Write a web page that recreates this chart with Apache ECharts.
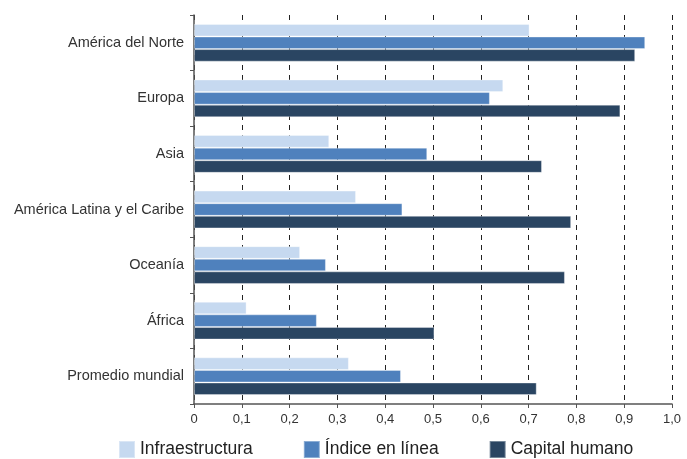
<!DOCTYPE html>
<html>
<head>
<meta charset="utf-8">
<script src="https://cdn.jsdelivr.net/npm/echarts@6/dist/echarts.min.js"></script>
<style>
  html, body { margin: 0; padding: 0; background: #fff; }
  #chart { width: 687px; height: 459px; }
</style>
</head>
<body>
<div id="chart"></div>
<script>
// regiones (de arriba hacia abajo)
const regiones = ['América del Norte', 'Europa', 'Asia', 'América Latina y el Caribe', 'Oceanía', 'África', 'Promedio mundial'];
const infraestructura = [0.702, 0.647, 0.283, 0.339, 0.222, 0.110, 0.324];
const indiceEnLinea = [0.944, 0.619, 0.488, 0.436, 0.276, 0.257, 0.433];
const capitalHumano = [0.923, 0.892, 0.728, 0.789, 0.776, 0.503, 0.717];
const nombres = ['Infraestructura', 'Índice en línea', 'Capital humano'];
const colores = ['#C6D9F0', '#4F81BD', '#2A4562'];

let myChart = echarts.init(document.getElementById('chart'));

function serie(i, data) {
  return {
    name: nombres[i],
    type: 'bar',
    data: data,
    barGap: '0%',
    barCategoryGap: '32%',
    itemStyle: {
      color: colores[i],
      borderColor: 'rgba(255,255,255,0.35)',
      borderWidth: 1
    }
  }
}

let option = {
  animation: false,
  textStyle: { fontFamily: 'Liberation Sans, Arial, sans-serif' },
  grid: { left: 194, right: 15, top: 15, bottom: 55 },
  legend: {
    top: 440,
    left: 118,
    padding: 0,
    itemWidth: 16,
    itemHeight: 17,
    itemGap: 50,
    icon: 'rect',
    textStyle: { fontSize: 17.5, color: '#222' },
    data: nombres
  },
  xAxis: {
    type: 'value',
    min: 0,
    max: 1,
    interval: 0.1,
    axisLine: { show: true, lineStyle: { color: '#555', width: 1.5 } },
    axisTick: { show: true, length: 4, lineStyle: { color: '#555' } },
    axisLabel: {
      color: '#333',
      fontSize: 13,
      margin: 9,
      formatter: function (v) {
        if (v === 0) return '0';
        return v.toFixed(1).replace('.', ',');
      }
    },
    splitLine: {
      show: true,
      lineStyle: { color: '#222', type: [5, 5], width: 1 }
    }
  },
  yAxis: {
    type: 'category',
    inverse: true,
    data: regiones,
    axisLine: { show: true, lineStyle: { color: '#555', width: 1.5 } },
    axisTick: { show: true, length: 4, inside: false, lineStyle: { color: '#555' } },
    axisLabel: { color: '#333', fontSize: 14.5, margin: 10 }
  },
  series: [
    serie(0, infraestructura),
    serie(1, indiceEnLinea),
    serie(2, capitalHumano)
  ]
};
myChart.setOption(option);
</script>
</body>
</html>
